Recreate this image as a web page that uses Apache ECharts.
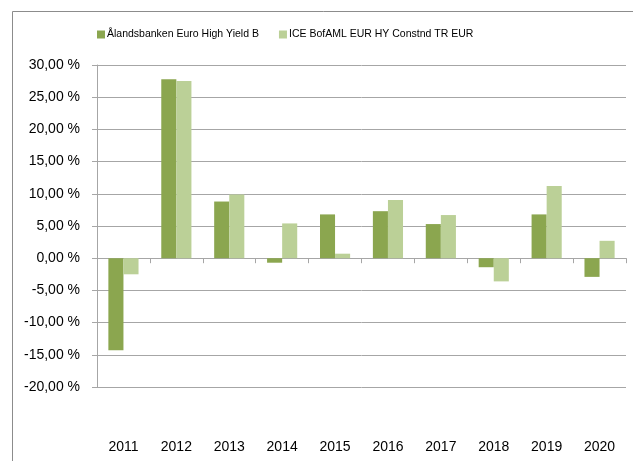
<!DOCTYPE html>
<html>
<head>
<meta charset="utf-8">
<script src="https://cdn.jsdelivr.net/npm/echarts@6/dist/echarts.min.js"></script>
<style>
html,body{margin:0;padding:0;background:#fff;}
#c{width:633px;height:461px;}
</style>
</head>
<body>
<div id="c"></div>
<script>
var categories = ['2011','2012','2013','2014','2015','2016','2017','2018','2019','2020'];
var seriesNames = ['Ålandsbanken Euro High Yield B', 'ICE BofAML EUR HY Constnd TR EUR'];
var fundValues = [-14.3, 27.8, 8.8, -0.7, 6.8, 7.3, 5.3, -1.4, 6.8, -2.9];
var indexValues = [-2.5, 27.5, 9.9, 5.4, 0.7, 9.05, 6.7, -3.6, 11.2, 2.7];
var yTicks = {min: -20, max: 30, interval: 5};

var FONT = 'Liberation Sans';
var chart = echarts.init(document.getElementById('c'), null, {renderer: 'canvas'});
chart.setOption({
  animation: false,
  backgroundColor: '#fff',
  textStyle: {fontFamily: FONT},
  graphic: [{
    type: 'rect', left: 10, top: 9,
    shape: {width: 640, height: 470},
    style: {fill: 'none', stroke: '#8c8c8c', lineWidth: 1},
    silent: true
  }],
  legend: {
    top: 24, left: 92,
    itemWidth: 8, itemHeight: 8, itemGap: 20,
    icon: 'rect',
    textStyle: {fontFamily: FONT, fontSize: 10.5, color: '#000', padding: [0,0,0,-3]},
    data: seriesNames
  },
  grid: {left: 97, right: 7, top: 65, bottom: 74, containLabel: false},
  xAxis: [{
    type: 'category', data: categories, position: 'bottom',
    axisLine: {onZero: true, lineStyle: {color: '#a6a6a6', width: 1}},
    axisTick: {show: true, length: 5, lineStyle: {color: '#a6a6a6'}},
    axisLabel: {show: false},
    splitLine: {show: false}
  }, {
    type: 'category', data: categories, position: 'bottom',
    axisLine: {show: false, onZero: false},
    axisTick: {show: false},
    axisLabel: {show: true, margin: 53, color: '#000', fontFamily: FONT, fontSize: 14},
    splitLine: {show: false}
  }],
  yAxis: {
    type: 'value', min: yTicks.min, max: yTicks.max, interval: yTicks.interval,
    axisLine: {show: true, lineStyle: {color: '#a6a6a6'}},
    axisTick: {show: true, length: 5, lineStyle: {color: '#a6a6a6'}},
    axisLabel: {
      margin: 17, color: '#000', fontFamily: FONT, fontSize: 14,
      formatter: function (v) { return v.toFixed(2).replace('.', ',') + ' %'; }
    },
    splitLine: {show: true, lineStyle: {color: '#a6a6a6', width: 1}}
  },
  series: [{
    name: seriesNames[0], type: 'bar', xAxisIndex: 0, data: fundValues,
    barGap: '0%', barCategoryGap: '43%',
    itemStyle: {color: '#8ba64f'}
  }, {
    name: seriesNames[1], type: 'bar', xAxisIndex: 0, data: indexValues,
    barGap: '0%', barCategoryGap: '43%',
    itemStyle: {color: '#bbd097'}
  }]
});
</script>
</body>
</html>
